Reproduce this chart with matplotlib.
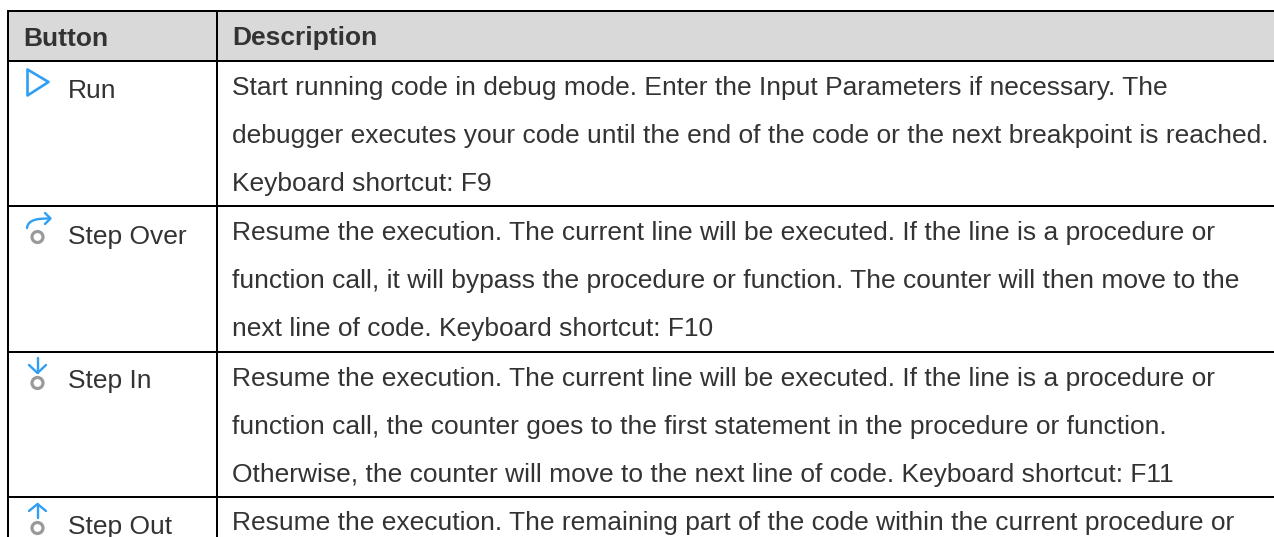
import matplotlib
matplotlib.use("Agg")
import matplotlib.pyplot as plt
from matplotlib.patches import Rectangle, Circle, Polygon
from matplotlib.path import Path
from matplotlib.patches import PathPatch

headers = ["Button", "Description"]
buttons = ["Run", "Step Over", "Step In", "Step Out"]
descriptions = [
    ["Start running code in debug mode. Enter the Input Parameters if necessary. The",
     "debugger executes your code until the end of the code or the next breakpoint is reached.",
     "Keyboard shortcut: F9"],
    ["Resume the execution. The current line will be executed. If the line is a procedure or",
     "function call, it will bypass the procedure or function. The counter will then move to the",
     "next line of code. Keyboard shortcut: F10"],
    ["Resume the execution. The current line will be executed. If the line is a procedure or",
     "function call, the counter goes to the first statement in the procedure or function.",
     "Otherwise, the counter will move to the next line of code. Keyboard shortcut: F11"],
    ["Resume the execution. The remaining part of the code within the current procedure or"],
]

W, H = 1274, 537
BLUE = "#2f9ff5"
GREY = "#9a9a9a"
TXT = "#333333"
FS = 19
plt.rcParams["font.family"] = ["Liberation Sans", "DejaVu Sans"]

fig = plt.figure(figsize=(W / 100, H / 100), dpi=100)
ax = fig.add_axes([0, 0, 1, 1])
ax.set_xlim(0, W)
ax.set_ylim(H, 0)
ax.axis("off")

X0, X1 = 8, 217
TOP, HEAD = 11, 61
ROWS = [61, 206, 352, 497]
BTN_BASE = [97.5, 244, 388, 534]
DESC_BASE = [95, 240, 386, 530]
LH = 48

ax.add_patch(Rectangle((X0, TOP), W - X0, HEAD - TOP, fc="#d9d9d9", ec="none"))
for y in [TOP, HEAD] + ROWS[1:]:
    ax.plot([X0, W], [y, y], color="black", lw=1.44, solid_capstyle="butt")
for x in (X0, X1):
    ax.plot([x, x], [TOP - 1, H], color="black", lw=1.44, solid_capstyle="butt")

ax.text(23, 45.5, headers[0], fontsize=FS, fontweight="bold", color=TXT, va="baseline")
ax.text(232, 45.5, headers[1], fontsize=FS, fontweight="bold", color=TXT, va="baseline")

for by, dy, b, lines in zip(BTN_BASE, DESC_BASE, buttons, descriptions):
    ax.text(68, by, b, fontsize=FS, color=TXT, va="baseline")
    for i, t in enumerate(lines):
        ax.text(232, dy + i * LH, t, fontsize=FS, color=TXT, va="baseline")


def dot(cy):
    ax.add_patch(Circle((37.5, cy), 5.5, fc="none", ec=GREY, lw=2.3))


def stroke(pts, codes=None, lw=1.7):
    ax.add_patch(PathPatch(Path(pts, codes), fc="none", ec=BLUE, lw=lw, capstyle="round", joinstyle="round"))


# Run
ax.add_patch(Polygon([(27.5, 69.5), (48.5, 82), (27.5, 95.5)], closed=True, fc="none", ec=BLUE, lw=1.9,
                     joinstyle="round"))
# Step Over
dot(237)
stroke([(27, 228), (28, 219), (39, 218.5), (50, 218.5)], [Path.MOVETO, Path.CURVE4, Path.CURVE4, Path.CURVE4])
stroke([(45, 213), (50.5, 218.5), (45, 224)])
# Step In
dot(383)
stroke([(37.5, 358), (37.5, 373)])
stroke([(29, 365), (37.5, 373), (46, 365)])
# Step Out
dot(528)
stroke([(37.5, 518), (37.5, 504)])
stroke([(29, 511), (37.5, 504), (46, 511)])

fig.savefig("out.png", dpi=100)
